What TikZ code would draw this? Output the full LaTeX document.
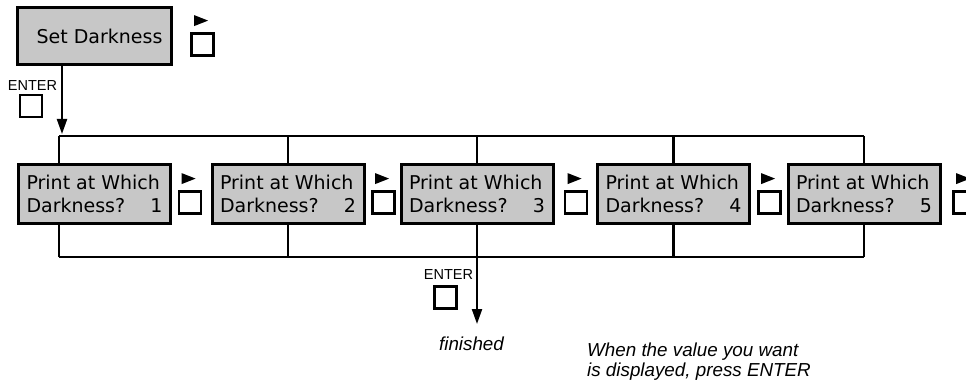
\documentclass[tikz,border=0pt]{standalone}
\usepackage{fontspec}
\setmainfont{DejaVu Sans}
\newfontfamily\helv{Liberation Sans}
\usetikzlibrary{arrows.meta}
\begin{document}
\begin{tikzpicture}[x=1pt,y=-1pt,
  scr/.style={draw, line width=3pt, fill=black!22, font=\fontsize{19}{23}\selectfont,
    inner sep=0pt, minimum width=152pt, minimum height=59pt, align=left},
  keysq/.style={draw, line width=2.8pt, minimum size=22pt, inner sep=0pt},
  lbl/.style={font=\helv\fontsize{14.5}{15}\selectfont, inner sep=0pt},
  bus/.style={line width=2.2pt},
  arr/.style={line width=2.2pt, -{Triangle[length=15pt,width=10pt]}},
  note/.style={font=\helv\itshape\fontsize{18.8}{19.5}\selectfont, align=left, inner sep=0pt}
]
\useasboundingbox (0,0) rectangle (966,385);

% Set Darkness
\node[scr, minimum width=154pt, minimum height=57pt] (sd) at (94.5,36) {\hspace*{10pt}Set Darkness};
\node[keysq] (k0) at (202.5,44.5) {};

% ENTER key 1
\node[lbl] (e1) at (32.5,85.5) {ENTER};
\node[keysq] (ek1) at (31,106) {};

% screens
\node[scr] (b1) at (94.5,194) {Print at Which\\\hbox to 136pt{Darkness?\hfill 1}};
\node[scr] (b2) at (288,194) {Print at Which\\\hbox to 136pt{Darkness?\hfill 2}};
\node[scr] (b3) at (477,194) {Print at Which\\\hbox to 136pt{Darkness?\hfill 3}};
\node[scr] (b4) at (673.5,194) {Print at Which\\\hbox to 136pt{Darkness?\hfill 4}};
\node[scr] (b5) at (864,194) {Print at Which\\\hbox to 136pt{Darkness?\hfill 5}};

\node[keysq] (k1) at (190,202.5) {};
\node[keysq] (k2) at (383.5,202.5) {};
\node[keysq] (k3) at (576,202.5) {};
\node[keysq] (k4) at (769.5,202.5) {};
\node[keysq] (k5) at (964.5,202.5) {};

\foreach \k in {k0,k1,k2,k3,k4,k5}
  \fill ([shift={(4,-6)}]\k.north west) -- ++(0,-11) -- ++(14,5.5) -- cycle;

% bus
\coordinate (tl) at (59,136);
\coordinate (tr) at (864,136);
\coordinate (bl) at (59,257);
\coordinate (br) at (864,257);
\draw[bus] (tl) -- (tr);
\draw[bus] (bl) -- (br);
\draw[bus] (tl) -- (tl |- b1.north);
\draw[bus] (bl) -- (bl |- b1.south);
\foreach \b in {b2,b3,b4,b5}{
  \draw[bus] (\b.north) -- (\b.north |- tl);
  \draw[bus] (\b.south) -- (\b.south |- bl);
}

% arrow from Set Darkness
\coordinate (a0) at (62,134);
\draw[arr] (a0 |- sd.south) -- (a0);

% ENTER key 2 and exit
\node[lbl] (e2) at (448.5,275) {ENTER};
\node[keysq] (ek2) at (445.5,297.5) {};
\coordinate (fin) at (477,324);
\draw[arr] (fin |- bl) -- (fin);

\node[note, anchor=base] (fn) at (471.5,350) {finished};
\node[note, anchor=north west] (nt) at (587,343) {When the value you want\\is displayed, press ENTER};
\end{tikzpicture}
\end{document}
